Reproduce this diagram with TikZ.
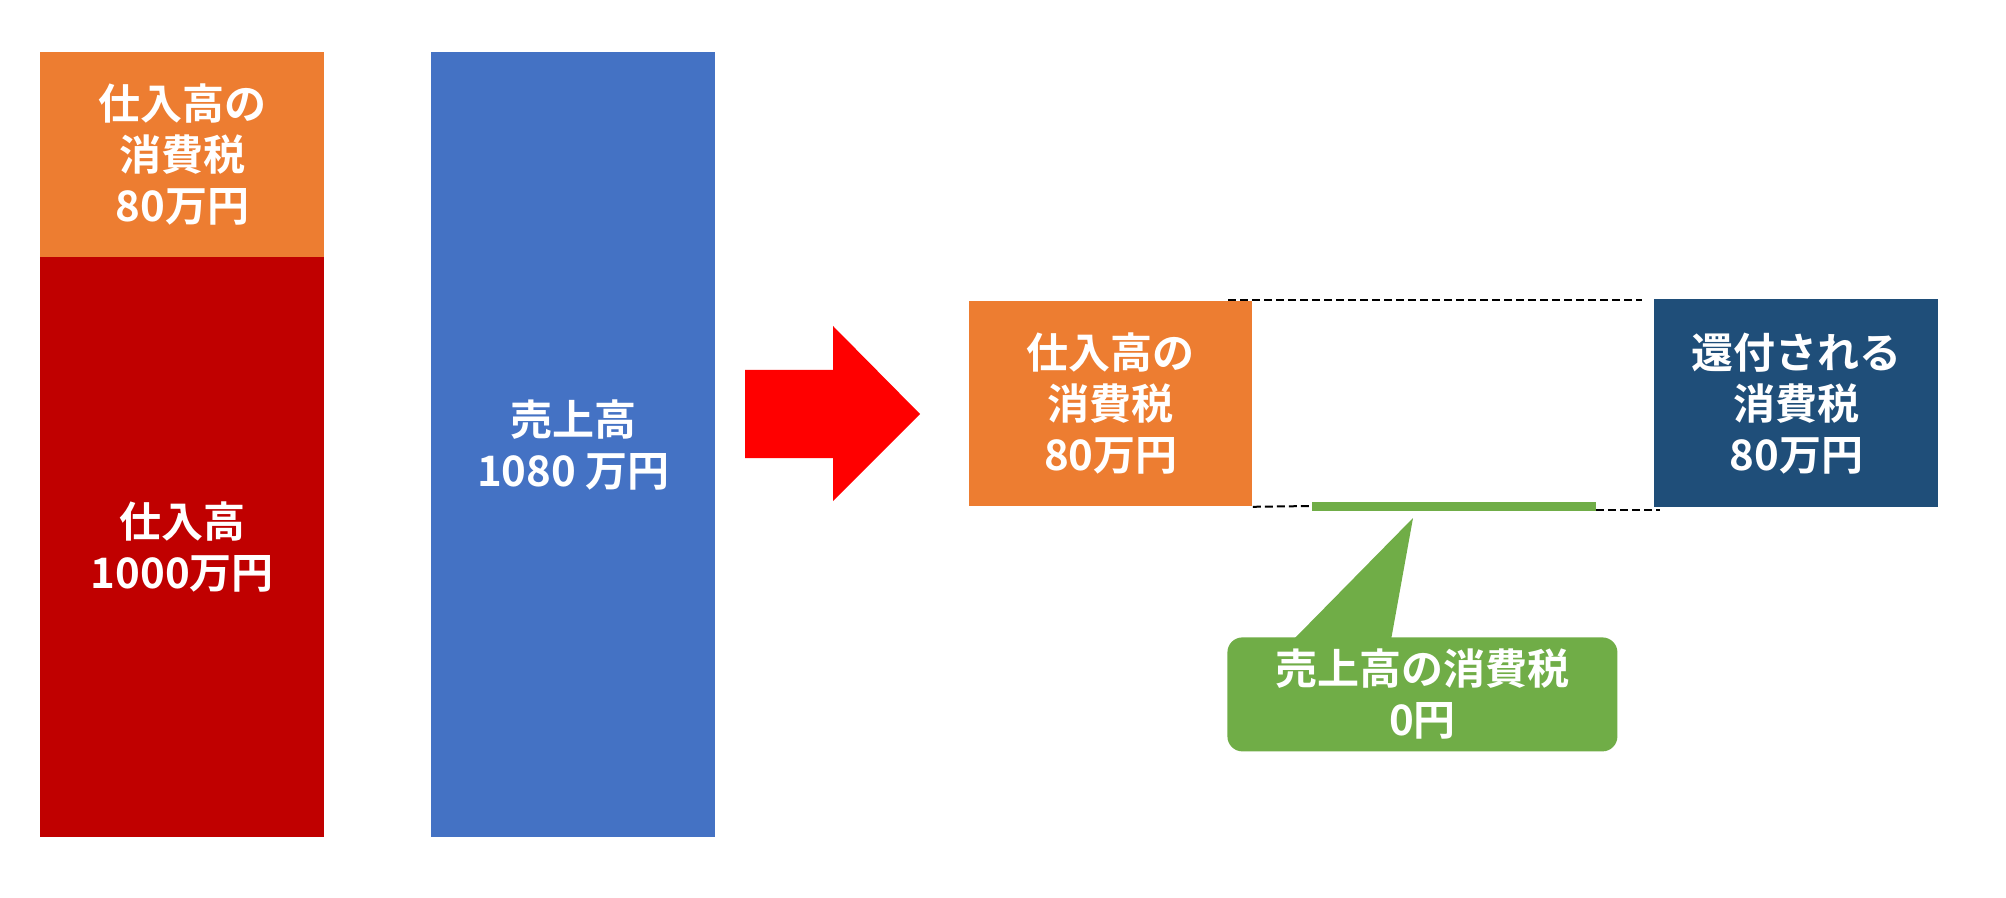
\documentclass[tikz,border=0pt]{standalone}
\usepackage{fontspec}
\setmainfont{Noto Sans CJK JP}[BoldFont={Noto Sans CJK JP Bold}]
\usepackage{tikz}
\usetikzlibrary{positioning}

\definecolor{taxorange}{HTML}{ED7D31}
\definecolor{buyred}{HTML}{C00000}
\definecolor{salesblue}{HTML}{4472C4}
\definecolor{refundnavy}{HTML}{1F4E79}
\definecolor{zerogreen}{HTML}{70AD47}

\tikzset{
    bar/.style={anchor=north west, inner sep=0pt, align=center, text=white,
        font=\bfseries\fontsize{21pt}{25.5pt}\selectfont},
    guide/.style={dashed, dash pattern=on 4pt off 2pt, line width=1pt}
}

\begin{document}
\begin{tikzpicture}[x=0.5pt, y=-0.5pt]
    \useasboundingbox (0,0) rectangle (2006,898);

    % left columns: purchases and sales
    \node[bar, fill=taxorange, minimum width=142pt, minimum height=102.5pt]
        (intax) at (40,52) {仕入高の\\消費税\\80万円};
    \node[bar, fill=buyred, minimum width=142pt, minimum height=290pt]
        (purchase) at (40,257) {仕入高\\1000万円};
    \node[bar, fill=salesblue, minimum width=142pt, minimum height=392.5pt]
        (sales) at (431,52) {売上高\\1080 万円};

    % big red arrow
    \fill[red] (745,370) -- (833,370) -- (833,326) -- (920,414)
        -- (833,501) -- (833,458) -- (745,458) -- cycle;

    % right side: tax comparison
    \node[bar, fill=taxorange, minimum width=141.5pt, minimum height=102.5pt]
        (intax2) at (969,301) {仕入高の\\消費税\\80万円};
    \node[bar, fill=refundnavy, minimum width=142pt, minimum height=104pt]
        (refund) at (1654,299) {還付される\\消費税\\80万円};

    \coordinate (topl) at (1228,300);
    \coordinate (topr) at (1642,300);
    \draw[guide] (topl) -- (topr);

    % sales tax is zero
    \coordinate (zl) at (1312,506);
    \coordinate (zr) at (1596,506);
    \draw[guide] (intax2.south east) -- (zl);
    \draw[guide] (1596,510) -- (1660,510);
    \draw[zerogreen, line width=4.5pt] (zl) -- (zr);

    % callout
    \fill[zerogreen] (1293,640) -- (1413,518) -- (1391,640) -- cycle;
    \node[bar, fill=zerogreen, rounded corners=7.5pt, minimum width=195pt,
        minimum height=57pt] (zerotax) at (1227,637) {売上高の消費税\\0円};
\end{tikzpicture}
\end{document}
